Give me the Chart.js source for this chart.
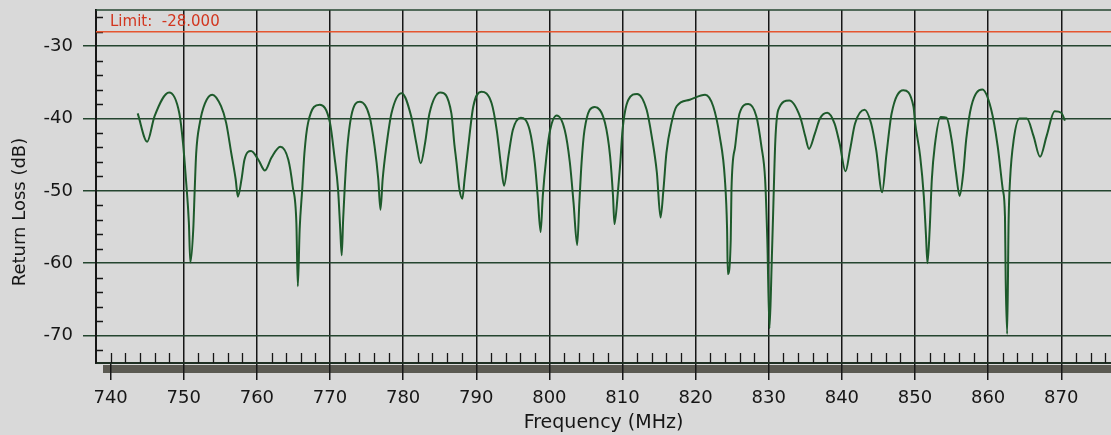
<!DOCTYPE html>
<html>
<head>
<meta charset="utf-8">
<script src="https://cdn.jsdelivr.net/npm/chart.js@4.4.1/dist/chart.umd.min.js"></script>
<style>
  html, body { margin: 0; padding: 0; background: #d9d9d9; }
  #wrap { width: 1111px; height: 435px; }
</style>
</head>
<body>
<div id="wrap"><canvas id="rl" width="1111" height="435"></canvas></div>
<script>
// sweep readout, MHz / dB
const freqMHz = [
  743.7, 745.0, 746.0, 748.0, 749.4, 749.9, 750.3, 750.7, 750.9, 751.3, 751.5, 751.7, 752.2, 752.9,
  753.9, 755.1, 755.8, 756.5, 757.1, 757.4, 757.9, 758.3, 759.2, 760.2, 761.1, 762.0, 763.2, 764.3,
  764.9, 765.4, 765.6, 765.85, 766.2, 766.5, 767.0, 768.6, 770.0, 770.6, 771.1, 771.4, 771.6, 771.8,
  772.0, 772.3, 772.9, 774.1, 775.4, 776.1, 776.6, 776.9, 777.2, 777.7, 778.4, 779.8, 781.1, 781.8,
  782.4, 783.0, 783.6, 785.1, 786.6, 787.0, 787.3, 787.7, 788.1, 788.4, 788.9, 789.6, 790.7, 792.1,
  792.8, 793.4, 793.8, 794.4, 795.0, 796.1, 797.3, 798.0, 798.4, 798.8, 799.1, 799.6, 800.1, 801.0,
  802.1, 802.8, 803.3, 803.8, 804.1, 804.4, 804.8, 806.2, 807.6, 808.3, 808.7, 808.9, 809.4, 809.7,
  810.0, 810.8, 812.0, 813.3, 814.0, 814.7, 815.2, 815.6, 816.0, 816.7, 817.4, 819.2, 821.3, 822.4,
  823.3, 824.0, 824.3, 824.4, 824.8, 824.9, 825.4, 826.0, 827.2, 828.3, 829.0, 829.5, 829.8, 830.1,
  830.4, 830.6, 830.9, 831.3, 832.8, 834.3, 835.0, 835.5, 836.3, 837.0, 838.0, 839.0, 839.7, 840.5,
  841.1, 841.8, 843.1, 844.0, 844.7, 845.5, 846.1, 846.8, 848.4, 849.8, 850.0, 850.7, 851.2, 851.5,
  851.7, 852.0, 852.3, 852.7, 853.5, 854.3, 855.0, 855.6, 856.1, 856.6, 857.0, 857.7, 859.2, 860.4,
  861.3, 862.0, 862.3, 862.4, 862.6, 862.8, 863.0, 863.5, 864.3, 865.3, 866.2, 867.1, 868.0, 869.1,
  870.0, 870.5
];
const returnLossDb = [
  -39.3, -43.2, -39.7, -36.4, -39.3, -43.4, -48.4, -54.4, -59.9, -55.3, -49.8, -44.8, -40.6, -37.9,
  -36.7, -38.3, -40.6, -44.8, -48.4, -50.8, -48.4, -45.7, -44.5, -45.7, -47.2, -45.4, -43.9, -45.7,
  -49.4, -54.4, -63.2, -55.3, -49.8, -44.8, -40.6, -38.1, -40.6, -45.2, -49.8, -55.3, -58.9, -53.9,
  -49.8, -44.8, -39.7, -37.7, -39.7, -43.9, -48.4, -52.6, -48.4, -43.9, -39.3, -36.5, -39.7, -43.4,
  -46.2, -43.4, -39.3, -36.4, -39.3, -43.5, -46.1, -49.8, -51.1, -48.4, -43.9, -38.3, -36.3, -37.9,
  -41.6, -46.6, -49.3, -45.2, -41.6, -39.9, -41.6, -46.1, -50.7, -55.7, -50.7, -45.2, -41.6, -39.6,
  -41.6, -46.1, -51.6, -57.5, -51.6, -46.1, -41.6, -38.4, -40.6, -45.2, -50.7, -54.6, -49.8, -46.1,
  -41.6, -37.4, -36.6, -38.8, -42.5, -47.5, -53.7, -49.8, -44.8, -40.6, -38.3, -37.4, -36.7, -38.3,
  -42.5, -48.4, -55.3, -61.5, -56.7, -49.8, -43.9, -39.3, -38.0, -39.7, -43.9, -48.4, -56.7, -69.0,
  -60.0, -53.0, -43.0, -38.8, -37.5, -39.8, -42.5, -44.2, -42.1, -40.0, -39.2, -40.7, -43.5, -47.3,
  -44.4, -40.7, -38.8, -40.7, -44.4, -50.2, -44.9, -39.3, -36.1, -38.4, -40.5, -45.2, -50.7, -56.2,
  -60.0, -55.4, -48.4, -43.8, -39.8, -39.9, -42.9, -47.5, -50.7, -47.5, -42.9, -38.3, -36.0, -38.7,
  -43.8, -49.8, -53.5, -62.3, -69.8, -54.0, -48.4, -42.9, -40.0, -40.0, -42.4, -45.3, -42.4, -39.0,
  -39.2, -40.3
];

const limitDb = -28;
const xMin = 738, xMax = 876.8;
const yMin = -73.8, yMax = -25;

const FONT = '"DejaVu Sans", "Liberation Sans", sans-serif';
const GRID_GREEN = '#24452f';
const INK = '#161616';

// paper, scrollbar strip, frame top, minor ticks and the limit caption
const paperPlot = {
  id: 'paperPlot',
  beforeDraw(chart) {
    const { ctx, chartArea: a } = chart;
    ctx.save();
    ctx.fillStyle = '#d9d9d9';
    ctx.fillRect(0, 0, chart.width, chart.height);
    ctx.fillStyle = '#5b5a52';
    ctx.fillRect(a.left + 7, a.bottom + 2, chart.width - a.left - 7, 8);
    ctx.restore();
  },
  beforeDatasetsDraw(chart) {
    const { ctx, chartArea: a, scales: { x, y } } = chart;
    ctx.save();
    ctx.strokeStyle = GRID_GREEN;
    ctx.lineWidth = 1.5;
    ctx.beginPath();
    ctx.moveTo(a.left, a.top);
    ctx.lineTo(a.right, a.top);
    ctx.stroke();

    ctx.strokeStyle = INK;
    ctx.lineWidth = 1.3;
    ctx.beginPath();
    for (let v = 740; v <= xMax; v += 2) {
      if (v % 10 === 0 && v >= 750) continue;
      const px = Math.round(x.getPixelForValue(v)) + 0.5;
      ctx.moveTo(px, a.bottom);
      ctx.lineTo(px, a.bottom - 10);
    }
    for (let v = -72; v <= -26; v += 2) {
      if (v % 10 === 0) continue;
      const py = Math.round(y.getPixelForValue(v)) + 0.5;
      ctx.moveTo(a.left, py);
      ctx.lineTo(a.left + 7, py);
    }
    ctx.stroke();

    ctx.fillStyle = '#d2361f';
    ctx.font = '15px ' + FONT;
    ctx.textBaseline = 'middle';
    ctx.fillText('Limit:  ' + limitDb.toFixed(3), a.left + 14, a.top + 12);
    ctx.restore();
  },
  afterDraw(chart) {
    const { ctx } = chart;
    ctx.save();
    ctx.fillStyle = INK;
    ctx.font = '18px ' + FONT;
    ctx.textAlign = 'center';
    ctx.textBaseline = 'middle';
    ctx.translate(20, 212);
    ctx.rotate(-Math.PI / 2);
    ctx.fillText('Return Loss (dB)', 0, 0);
    ctx.restore();
  }
};

const ctx = document.getElementById('rl').getContext('2d');
new Chart(ctx, {
  type: 'line',
  data: {
    datasets: [
      {
        label: 'Return Loss',
        data: freqMHz.map((f, i) => ({ x: f, y: returnLossDb[i] })),
        borderColor: '#1d5a2b',
        borderWidth: 2,
        pointRadius: 0,
        cubicInterpolationMode: 'monotone'
      },
      {
        label: 'Limit',
        data: [{ x: xMin, y: limitDb }, { x: xMax, y: limitDb }],
        borderColor: '#e5552f',
        borderWidth: 1.5,
        pointRadius: 0
      }
    ]
  },
  options: {
    responsive: false,
    animation: false,
    events: [],
    layout: { padding: { top: 10, left: 0, right: 0, bottom: 0 } },
    plugins: {
      legend: { display: false },
      tooltip: { enabled: false }
    },
    scales: {
      x: {
        type: 'linear',
        min: xMin,
        max: xMax,
        afterFit: s => { s.height = 72; s.paddingLeft = 0; s.paddingRight = 0; },
        border: { color: '#1e2f22', width: 2 },
        grid: {
          color: c => (c.tick && c.tick.value % 10 === 0 && c.tick.value >= 750) ? INK : 'rgba(0,0,0,0)',
          tickColor: c => (c.tick && c.tick.value % 10 === 0) ? INK : 'rgba(0,0,0,0)',
          lineWidth: 1.5,
          tickWidth: 1.5,
          tickLength: 17
        },
        ticks: {
          stepSize: 2,
          autoSkip: false,
          includeBounds: false,
          maxRotation: 0,
          padding: 8,
          color: INK,
          font: { family: FONT, size: 18 },
          callback: v => (v % 10 === 0 ? String(v) : '')
        },
        title: {
          display: true,
          text: 'Frequency (MHz)',
          color: INK,
          font: { family: FONT, size: 19 },
          padding: { top: 0, bottom: 1 }
        }
      },
      y: {
        min: yMin,
        max: yMax,
        afterFit: s => { s.width = 96; s.paddingTop = 0; s.paddingBottom = 0; },
        border: { color: INK, width: 2 },
        grid: {
          color: GRID_GREEN,
          tickColor: GRID_GREEN,
          lineWidth: 1.5,
          tickLength: 13
        },
        ticks: {
          stepSize: 10,
          includeBounds: false,
          padding: 10,
          color: INK,
          font: { family: FONT, size: 18 }
        }
      }
    }
  },
  plugins: [paperPlot]
});
</script>
</body>
</html>
